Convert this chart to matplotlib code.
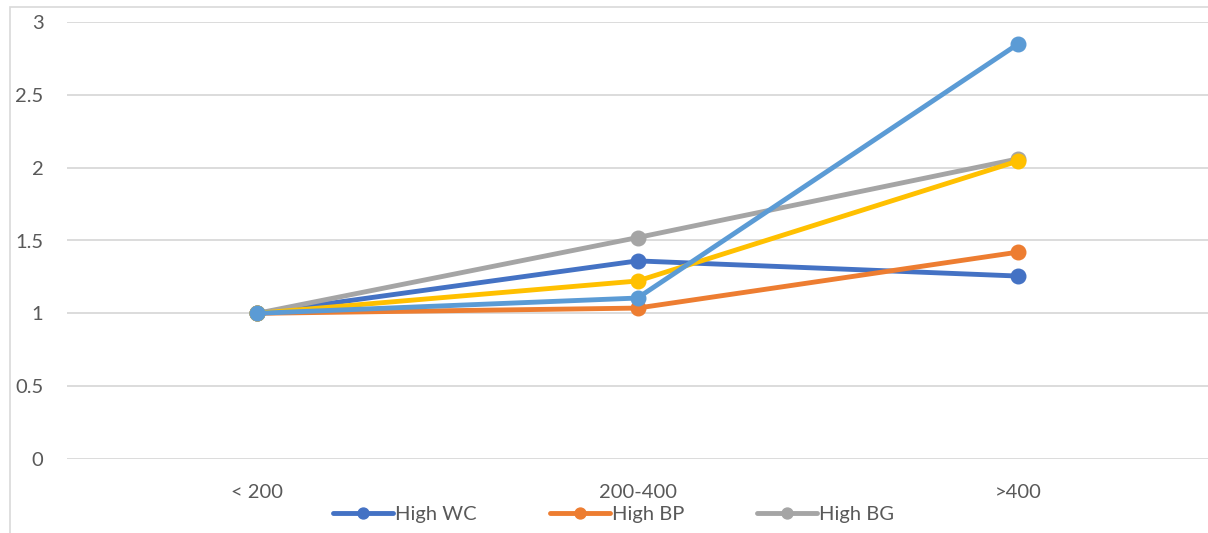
import matplotlib.pyplot as plt
from matplotlib.patches import Rectangle

# categories and series values
categories = ["< 200", "200-400", ">400"]
high_wc = [1.0, 1.36, 1.256]
high_bp = [1.0, 1.036, 1.42]
high_bg = [1.0, 1.52, 2.06]
series_4 = [1.0, 1.222, 2.045]
series_5 = [1.0, 1.105, 2.848]

plt.rcParams["font.family"] = ["Lato", "DejaVu Sans"]

fig = plt.figure(figsize=(12.08, 5.33), dpi=100)
ax = fig.add_axes([67 / 1208, 74 / 533, 1141 / 1208, 437 / 533])

# chart area border
fig.patches.append(Rectangle((10 / 1208, -0.1), 1.2, (526 / 533) + 0.1,
                             transform=fig.transFigure, fill=False,
                             edgecolor="#D9D9D9", linewidth=1.2))

x = list(range(len(categories)))
lines = [
    (high_wc, "#4472C4", "High WC"),
    (high_bp, "#ED7D31", "High BP"),
    (high_bg, "#A5A5A5", "High BG"),
    (series_4, "#FFC000", None),
    (series_5, "#5B9BD5", None),
]
handles = []
for vals, col, lab in lines:
    h, = ax.plot(x, vals, color=col, linewidth=3.5, marker="o", markersize=10.5,
                 solid_capstyle="round", zorder=3)
    if lab:
        h.set_label(lab)
        handles.append(h)

ax.set_xlim(-0.5, 2.5)
ax.set_ylim(0, 3)
ax.set_yticks([0, 0.5, 1, 1.5, 2, 2.5, 3])
ax.set_yticklabels(["0", "0.5", "1", "1.5", "2", "2.5", "3"])
ax.set_xticks(x)
ax.set_xticklabels(categories)
ax.grid(axis="y", color="#D9D9D9", linewidth=1.3, zorder=0)
ax.set_axisbelow(True)
for s in ax.spines.values():
    s.set_visible(False)
ax.tick_params(axis="both", length=0, labelsize=14.5, colors="#595959")
ax.tick_params(axis="y", pad=17)
ax.tick_params(axis="x", pad=18)

fig.legend(handles=handles, loc="center", bbox_to_anchor=(0.508, 0.034), ncol=3,
           frameon=False, fontsize=14.5, labelcolor="#595959", handlelength=3.0,
           handletextpad=0.1, columnspacing=3.6, markerscale=0.75)

fig.savefig("out.png", dpi=100)
